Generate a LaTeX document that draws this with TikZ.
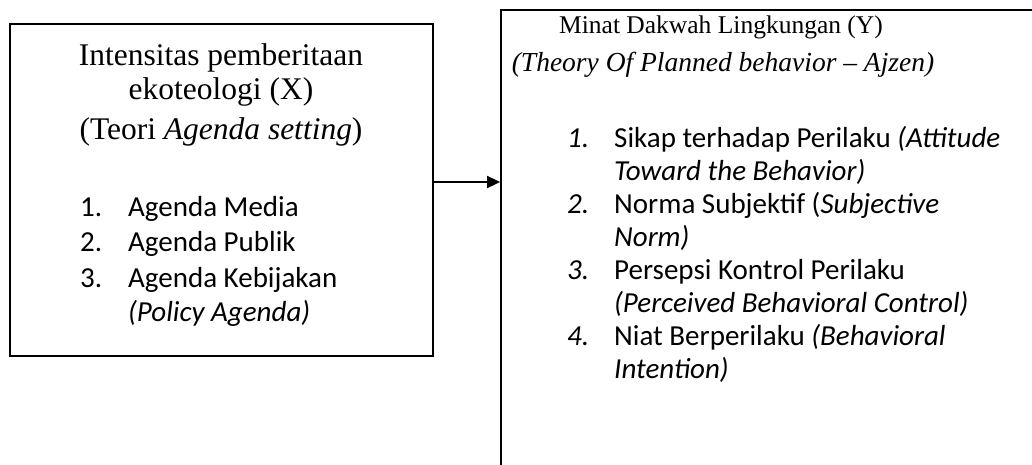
\documentclass[tikz,border=0pt]{standalone}
\usepackage{fontspec}
\setmainfont{Liberation Serif}
\newfontfamily\calibri{Carlito}
\usetikzlibrary{arrows.meta}
\tikzset{
  box/.style={draw=black, line width=1.8pt, rectangle, inner sep=0pt},
  ttlL/.style={anchor=base, inner sep=0pt, font=\fontsize{31.5}{36}\selectfont},
  ttlR/.style={anchor=base, inner sep=0pt, font=\fontsize{25.5}{30}\selectfont},
  ttlRi/.style={anchor=base, inner sep=0pt, font=\fontsize{27.5}{32}\selectfont},
  itmL/.style={anchor=base west, inner sep=0pt, font=\calibri\fontsize{29}{34}\selectfont},
  itmR/.style={anchor=base west, inner sep=0pt, font=\calibri\fontsize{29}{33}\selectfont},
  conn/.style={line width=1.8pt, -{Triangle[length=13pt,width=12pt]}}
}
\begin{document}
\begin{tikzpicture}[x=1pt,y=-1pt]
\useasboundingbox (0,0) rectangle (1032,464);
\clip (0,0) rectangle (1032,464);
% boxes
\node[box, minimum width=423pt, minimum height=332pt] (X) at (221.5,190) {};
\node[box, minimum width=560pt, minimum height=500pt] (Y) at (781,260) {};
% left text
\node[ttlL] (x1) at (221,65) {Intensitas pemberitaan};
\node[ttlL] (x2) at (221,99) {ekoteologi (X)};
\node[ttlL] (x3) at (221,139) {(Teori \textit{Agenda setting})};
\node[itmL] (xn1) at (80,216) {1.};
\node[itmL] (xt1) at (128,216) {Agenda Media};
\node[itmL] (xn2) at (80,251) {2.};
\node[itmL] (xt2) at (128,251) {Agenda Publik};
\node[itmL] (xn3) at (80,287) {3.};
\node[itmL] (xt3) at (128,287) {Agenda Kebijakan};
\node[itmL] (xt4) at (128,321) {\textit{(Policy Agenda)}};
% right text
\node[ttlR] (y1) at (721,33) {Minat Dakwah Lingkungan (Y)};
\node[ttlRi] (y2) at (723,71) {\textit{(Theory Of Planned behavior – Ajzen)}};
\node[itmR] (yn1) at (567,147) {\textit{1.}};
\node[itmR] (yt1) at (614,147) {Sikap terhadap Perilaku \textit{(Attitude}};
\node[itmR] (yt1b) at (614,180) {\textit{Toward the Behavior)}};
\node[itmR] (yn2) at (567,213) {\textit{2.}};
\node[itmR] (yt2) at (614,213) {Norma Subjektif (\textit{Subjective}};
\node[itmR] (yt2b) at (614,246) {\textit{Norm)}};
\node[itmR] (yn3) at (567,279) {\textit{3.}};
\node[itmR] (yt3) at (614,279) {Persepsi Kontrol Perilaku};
\node[itmR] (yt3b) at (614,312) {\textit{(Perceived Behavioral Control)}};
\node[itmR] (yn4) at (567,345) {\textit{4.}};
\node[itmR] (yt4) at (614,345) {Niat Berperilaku \textit{(Behavioral}};
\node[itmR] (yt4b) at (614,378) {\textit{Intention)}};
% connector
\coordinate (ay) at (0,182);
\draw[conn] (X.east |- ay) -- (Y.west |- ay);
\end{tikzpicture}
\end{document}
